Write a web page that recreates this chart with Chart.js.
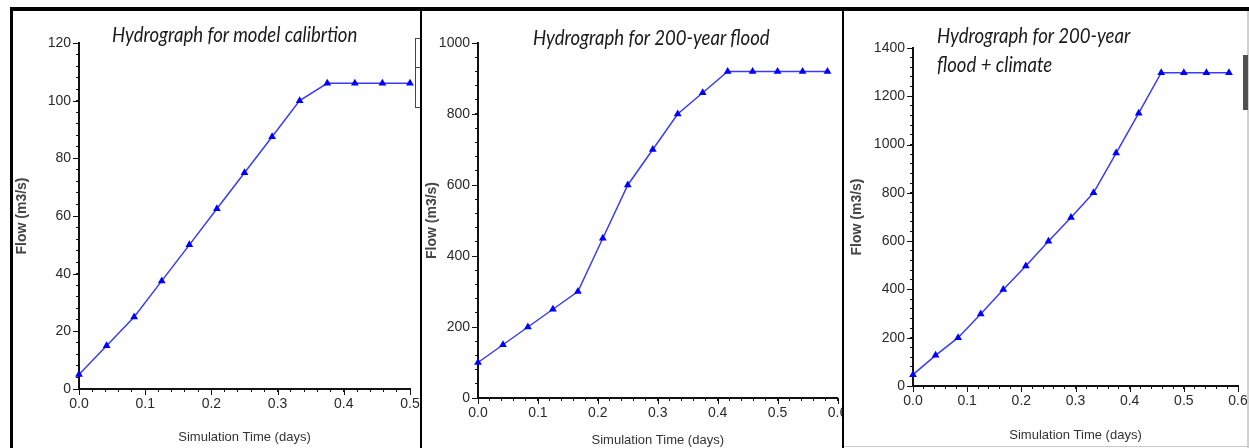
<!DOCTYPE html>
<html>
<head>
<meta charset="utf-8">
<script src="https://cdn.jsdelivr.net/npm/chart.js@4.4.1/dist/chart.umd.min.js"></script>
<style>
  html,body{margin:0;padding:0;background:#fff;}
  body{width:1249px;height:448px;position:relative;overflow:hidden;}
  .panel{position:absolute;}
  .bar{position:absolute;background:#000;z-index:5;}
  .ttl{position:absolute;font-family:Lato,"Open Sans",sans-serif;font-style:italic;font-size:18.6px;color:#1a1a1a;
       white-space:nowrap;transform:scaleY(1.18);transform-origin:left top;line-height:24px;z-index:4;}
</style>
</head>
<body>
<div class="panel" id="p1" style="left:13px;top:10px;width:407px;height:438px"><canvas id="c1"></canvas></div>
<div class="panel" id="p2" style="left:422px;top:10px;width:420px;height:438px"><canvas id="c2"></canvas></div>
<div class="panel" id="p3" style="left:844px;top:10px;width:405px;height:438px"><canvas id="c3"></canvas></div>

<div class="ttl" style="left:112px;top:20px">Hydrograph for model calibrtion</div>
<div class="ttl" style="left:533px;top:23px">Hydrograph for 200-year flood</div>
<div class="ttl" style="left:937px;top:21px">Hydrograph for 200-year<br>flood + climate</div>

<!-- frame lines -->
<div class="bar" style="left:10px;top:7px;width:1239px;height:4px"></div>
<div class="bar" style="left:10px;top:7px;width:3px;height:441px"></div>
<div class="bar" style="left:420px;top:10px;width:2px;height:438px"></div>
<div class="bar" style="left:842px;top:10px;width:2px;height:438px"></div>
<div style="position:absolute;left:415px;top:38px;width:5px;height:68px;border:1px solid #444;border-right:none;z-index:4;background:#fff"></div>
<div style="position:absolute;left:415px;top:67px;width:5px;height:1px;background:#444;z-index:4"></div>
<div style="position:absolute;left:1247px;top:11px;width:2px;height:437px;background:#d0d0d0;z-index:4"></div>
<div style="position:absolute;left:1243px;top:55px;width:5px;height:55px;background:#505050;z-index:4"></div>
<div style="position:absolute;left:844px;top:446px;width:405px;height:1px;background:#c8c8c8;z-index:4"></div>

<script>
// time axis (days), one value per hour
const timeCal = [0, 0.0417, 0.0833, 0.125, 0.1667, 0.2083, 0.25, 0.2917, 0.3333, 0.375, 0.4167, 0.4583, 0.5];
const flowCal = [5, 15, 25, 37.5, 50, 62.5, 75, 87.5, 100, 106, 106, 106, 106];

const time200 = [0, 0.0417, 0.0833, 0.125, 0.1667, 0.2083, 0.25, 0.2917, 0.3333, 0.375, 0.4167, 0.4583, 0.5, 0.5417, 0.5833];
const flow200 = [100, 150, 200, 250, 300, 450, 600, 700, 800, 860, 920, 920, 920, 920, 920];

const timeClim = [0, 0.0417, 0.0833, 0.125, 0.1667, 0.2083, 0.25, 0.2917, 0.3333, 0.375, 0.4167, 0.4583, 0.5, 0.5417, 0.5833];
const flowClim = [47, 127, 200, 298, 400, 497, 600, 698, 800, 965, 1130, 1298, 1298, 1298, 1298];

const xTitle = "Simulation Time (days)";
const yTitle = "Flow (m3/s)";

function pts(t, q){ return t.map((v,i)=>({x:v, y:q[i]})); }

function isMajor(v, step){ const r = v/step; return Math.abs(r - Math.round(r)) < 1e-6; }

// longer tick marks on labelled (major) ticks
const majorTicks = {
  id: 'majorTicks',
  afterDraw(chart){
    const ctx = chart.ctx, xs = chart.scales.x, ys = chart.scales.y;
    ctx.save();
    ctx.strokeStyle = '#111';
    ctx.lineWidth = 1;
    ctx.beginPath();
    xs.ticks.forEach((t,i)=>{
      if(xs._labelItems && xs.getLabelForValue && !isMajor(t.value, 0.1)) return;
      const px = Math.round(xs.getPixelForValue(t.value)) + 0.5;
      ctx.moveTo(px, xs.top); ctx.lineTo(px, xs.top + 6);
    });
    const step = chart.options.scales.y.ticks.major_step;
    ys.ticks.forEach(t=>{
      if(!isMajor(t.value, step)) return;
      const py = Math.round(ys.getPixelForValue(t.value)) + 0.5;
      ctx.moveTo(ys.right, py); ctx.lineTo(ys.right - 6, py);
    });
    ctx.stroke();
    ctx.restore();
  }
};

function makeChart(id, t, q, o){
  new Chart(document.getElementById(id), {
    type: 'scatter',
    data: { datasets: [{
      data: pts(t, q),
      showLine: true,
      borderColor: '#3a3aff',
      borderWidth: 1.5,
      backgroundColor: '#0000ff',
      pointStyle: 'triangle',
      pointRadius: 4.5,
      pointBorderWidth: 0,
      clip: false
    }]},
    plugins: [majorTicks],
    options: {
      responsive: true, maintainAspectRatio: false, animation: false,
      layout: { padding: { top: o.padTop, right: o.padRight, left: 0, bottom: 0 } },
      plugins: { legend: {display:false}, tooltip: {enabled:false} },
      scales: {
        x: {
          type: 'linear', min: 0, max: o.xMax,
          grid: { drawOnChartArea: false, tickLength: 3, tickColor: '#111', tickWidth: 1 },
          border: { color: '#111', width: 2 },
          ticks: { stepSize: 0.02, autoSkip: false, maxRotation: 0, padding: 4,
                   color: '#2a2a2a', font: { family: 'Liberation Sans, Arial', size: 14 },
                   callback: v => isMajor(v, 0.1) ? v.toFixed(1) : '' },
          title: { display: true, text: xTitle, color: '#333',
                   font: { family: 'Liberation Sans, Arial', size: 13 }, padding: { bottom: o.xtPad, top: 0 } },
          afterFit: s => { s.height = o.xH; s.paddingLeft = 0; s.paddingRight = 0; }
        },
        y: {
          type: 'linear', min: 0, max: o.yMax,
          grid: { drawOnChartArea: false, tickLength: 3, tickColor: '#111', tickWidth: 1 },
          border: { color: '#111', width: 2 },
          ticks: { stepSize: o.yMinor, major_step: o.yMajor, autoSkip: false, padding: 5,
                   color: '#2a2a2a', font: { family: 'Liberation Sans, Arial', size: 14 },
                   callback: v => isMajor(v, o.yMajor) ? String(v) : '' },
          title: { display: true, text: yTitle, color: '#444',
                   font: { family: 'Liberation Sans, Arial', size: 14, weight: 'bold' }, padding: { top: o.ytPad, bottom: 0 } },
          afterFit: s => { s.width = o.yW; s.paddingTop = 0; s.paddingBottom = 0; }
        }
      }
    }
  });
}

makeChart('c1', timeCal, flowCal, { xMax: 0.5, yMax: 120, yMajor: 20, yMinor: 4,
  padTop: 33, padRight: 10, yW: 66, xH: 59, ytPad: 1, xtPad: 3 });
makeChart('c2', time200, flow200, { xMax: 0.6, yMax: 1000, yMajor: 200, yMinor: 40,
  padTop: 33, padRight: 0, yW: 56, xH: 50, ytPad: 2, xtPad: 0 });
makeChart('c3', timeClim, flowClim, { xMax: 0.6, yMax: 1400, yMajor: 200, yMinor: 40,
  padTop: 38, padRight: 11, yW: 69, xH: 62, ytPad: 5, xtPad: 5 });
</script>
</body>
</html>
